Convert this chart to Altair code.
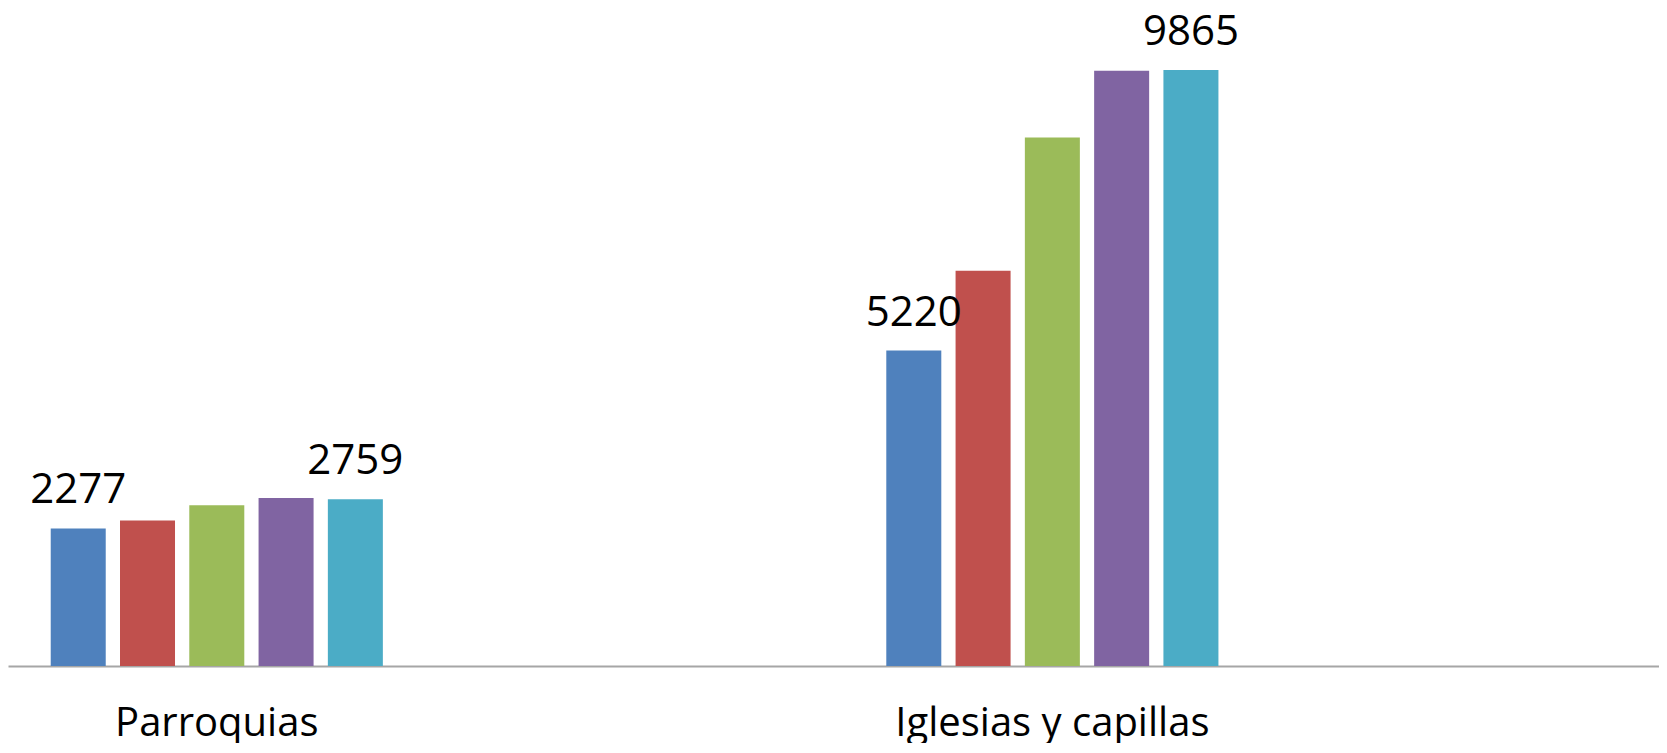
import altair as alt
import pandas as pd

categories = ["Parroquias", "Iglesias y capillas"]
series = ["Serie 1", "Serie 2", "Serie 3", "Serie 4", "Serie 5"]
parroquias = [2277, 2410, 2660, 2780, 2759]
iglesias = [5220, 6540, 8745, 9850, 9865]
colors = ["#4F81BD", "#C0504D", "#9BBB59", "#8064A2", "#4BACC6"]
labelled = ["Serie 1", "Serie 5"]

rows = []
for cat, vals in zip(categories, [parroquias, iglesias]):
    for s, v in zip(series, vals):
        rows.append({"categoria": cat, "serie": s, "valor": v})
df = pd.DataFrame(rows)

x_enc = alt.X(
    "categoria:N",
    sort=categories,
    title=None,
    scale=alt.Scale(paddingInner=0.6025, paddingOuter=0.2892, align=0.0884),
    axis=alt.Axis(
        domainColor="#A6A6A6",
        domainWidth=2,
        ticks=False,
        tickSize=0,
        grid=False,
        labelAngle=0,
        labelFont="Open Sans",
        labelFontSize=40,
        labelColor="black",
        labelBaseline="alphabetic",
        labelPadding=69,
        labelLimit=800,
    ),
)
y_enc = alt.Y("valor:Q", scale=alt.Scale(domain=[0, 10890], nice=False), axis=None)
xo_enc = alt.XOffset("serie:N", sort=series, scale=alt.Scale(paddingInner=0.206, paddingOuter=0))

base = alt.Chart(df).encode(x=x_enc, y=y_enc, xOffset=xo_enc)

bars = base.mark_bar().encode(
    color=alt.Color("serie:N", sort=series, scale=alt.Scale(domain=series, range=colors), legend=None)
)

labels = base.transform_filter(
    alt.FieldOneOfPredicate(field="serie", oneOf=labelled)
).mark_text(
    dy=-25, baseline="alphabetic", align="center", font="Open Sans", fontSize=42, color="black"
).encode(text=alt.Text("valor:Q", format="d"))

chart = alt.layer(bars, labels).properties(
    width=1651, height=658, padding=0, background="white"
).configure_view(stroke=None)

chart.save("out.html", embed_options={"renderer": "svg", "actions": False})
